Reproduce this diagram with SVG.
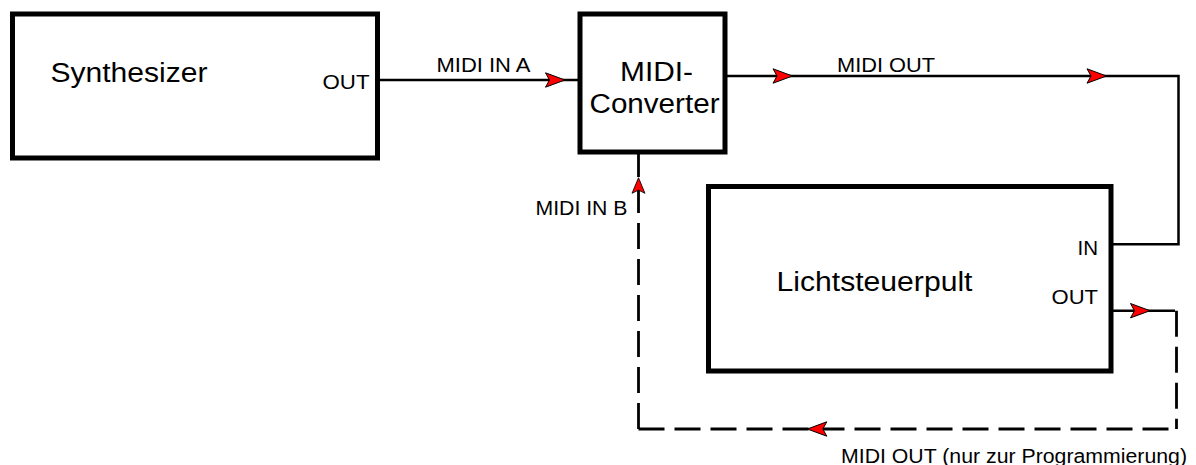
<svg xmlns="http://www.w3.org/2000/svg" width="1196" height="465" viewBox="0 0 1196 465">
<style>
.box{fill:#fff;stroke:#000;stroke-width:5}
.ln{fill:none;stroke:#000;stroke-width:2.5}
.dash{fill:none;stroke:#000;stroke-width:2.8;stroke-dasharray:26 10}
.big{font-family:"Liberation Sans",Arial,sans-serif;font-size:27px;fill:#000}
.lbl{font-family:"Liberation Sans",Arial,sans-serif;font-size:20px;fill:#000}
</style>
<defs>
<path id="ah" d="M0,0 L-19.5,-7.2 L-15.5,0 L-19.5,7.2 Z" fill="#ff0000" stroke="#000" stroke-width="1" stroke-linejoin="miter"/>
</defs>
<rect width="1196" height="465" fill="#fff"/>
<g id="connectors">
<path class="ln" d="M380,80 H578"/>
<path class="ln" d="M727,76 H1178.5 V244.3 H1113"/>
<path class="ln" d="M1113,310.7 H1175"/>
<path class="dash" d="M1176.5,310.7 V429"/>
<path class="dash" d="M638.5,429 H1176.5"/>
<path class="dash" d="M638.5,429 V154"/>
<use href="#ah" transform="translate(565,80)"/>
<use href="#ah" transform="translate(792.5,76)"/>
<use href="#ah" transform="translate(1106.5,76)"/>
<use href="#ah" transform="translate(1150,310.7)"/>
<use href="#ah" transform="translate(807.3,429) rotate(180)"/>
<use href="#ah" transform="translate(638.5,177.7) rotate(-90) scale(0.8,0.9)"/>
<text class="lbl" x="436.5" y="71.7" textLength="94" lengthAdjust="spacingAndGlyphs">MIDI IN A</text>
<text class="lbl" x="837" y="71.7" textLength="98" lengthAdjust="spacingAndGlyphs">MIDI OUT</text>
<text class="lbl" x="535.5" y="215" textLength="92" lengthAdjust="spacingAndGlyphs">MIDI IN B</text>
<text class="lbl" x="841" y="462.5" textLength="346" lengthAdjust="spacingAndGlyphs">MIDI OUT (nur zur Programmierung)</text>
</g>
<g id="synthesizer">
<rect class="box" x="12.5" y="14" width="365" height="144"/>
<text class="big" x="50.5" y="82.3" textLength="157" lengthAdjust="spacingAndGlyphs">Synthesizer</text>
<text class="lbl" x="322.5" y="89" textLength="47" lengthAdjust="spacingAndGlyphs">OUT</text>
</g>
<g id="midi-converter">
<rect class="box" x="580" y="14" width="145" height="138"/>
<text class="big" x="620" y="81" textLength="73" lengthAdjust="spacingAndGlyphs">MIDI-</text>
<text class="big" x="589.5" y="113.3" textLength="130" lengthAdjust="spacingAndGlyphs">Converter</text>
</g>
<g id="lichtsteuerpult">
<rect class="box" x="708.5" y="186.5" width="402.5" height="184.5"/>
<text class="big" x="776.5" y="290.7" textLength="196" lengthAdjust="spacingAndGlyphs">Lichtsteuerpult</text>
<text class="lbl" x="1077.5" y="255" textLength="20.5" lengthAdjust="spacingAndGlyphs">IN</text>
<text class="lbl" x="1051.5" y="303.8" textLength="46.5" lengthAdjust="spacingAndGlyphs">OUT</text>
</g>
</svg>
